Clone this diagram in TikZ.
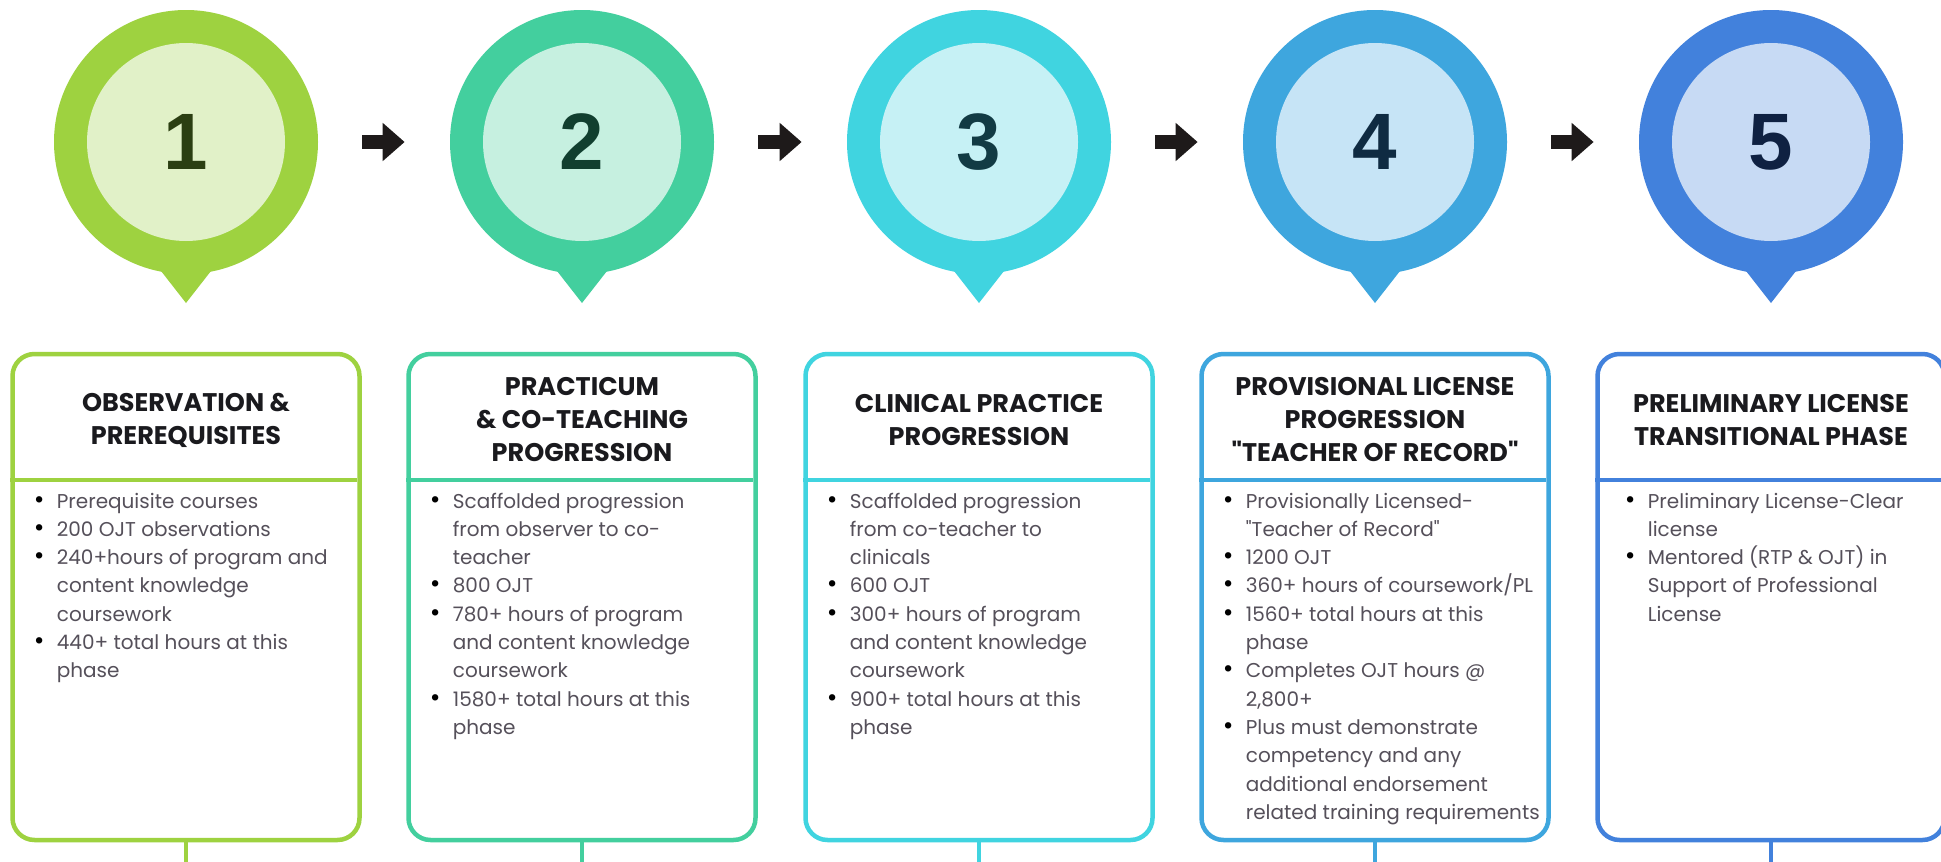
\documentclass[tikz,border=0pt]{standalone}
\usepackage{fontspec}
\usepackage{graphicx}
\setmainfont{Poppins}
\newfontfamily\numfont{Liberation Sans}
\usetikzlibrary{arrows.meta}

\definecolor{ringA}{RGB}{158,210,64}
\definecolor{diskA}{RGB}{225,241,200}
\definecolor{numA}{RGB}{43,63,18}
\definecolor{ringB}{RGB}{67,207,158}
\definecolor{diskB}{RGB}{198,240,224}
\definecolor{numB}{RGB}{17,63,47}
\definecolor{ringC}{RGB}{64,212,224}
\definecolor{diskC}{RGB}{198,241,245}
\definecolor{numC}{RGB}{18,59,68}
\definecolor{ringD}{RGB}{62,166,222}
\definecolor{diskD}{RGB}{198,228,246}
\definecolor{numD}{RGB}{15,43,66}
\definecolor{ringE}{RGB}{66,129,220}
\definecolor{diskE}{RGB}{199,218,244}
\definecolor{numE}{RGB}{15,33,66}
\definecolor{headink}{RGB}{26,26,30}
\definecolor{bodyink}{RGB}{85,80,90}
\definecolor{arrowink}{RGB}{30,26,26}

\newcommand\blt{\makebox[23pt][l]{\color{black}\scalebox{1.3}{\textbullet}}}

\tikzset{every picture/.style={line width=0.75pt}}
\tikzset{
  ring/.style={circle, inner sep=0pt, minimum size=264pt},
  disk/.style={circle, inner sep=0pt, minimum size=198pt, font=\numfont\bfseries\fontsize{80}{80}\selectfont},
  phasebox/.style={draw, line width=4.5pt, rounded corners=22pt, minimum width=347pt, minimum height=486pt, inner sep=0pt},
  rule/.style={line width=4.5pt},
  headtext/.style={align=center, inner sep=0pt, font=\bfseries\fontsize{25.5}{33}\selectfont, text=headink},
  bodytext/.style={anchor=base west, inner sep=0pt, font=\fontsize{20}{28.3}\selectfont, text=bodyink},
  blockarrow/.style={draw=arrowink, line width=13.5pt, -{Triangle[length=22pt,width=37pt]}, shorten <=44pt, shorten >=45pt},
}

\begin{document}
\begin{tikzpicture}[x=1pt,y=1pt,yscale=-1,xscale=1]
\useasboundingbox[fill=white] (0,0) rectangle (1941,862);

%Pointers
\fill[ringA] (154,262) -- (186,303) -- (218,262) -- cycle;
\fill[ringB] (550,262) -- (582,303) -- (614,262) -- cycle;
\fill[ringC] (947,262) -- (979,303) -- (1011,262) -- cycle;
\fill[ringD] (1343,262) -- (1375,303) -- (1407,262) -- cycle;
\fill[ringE] (1739,262) -- (1771,303) -- (1803,262) -- cycle;

%Shape: Circle
\node (ring1) [ring, fill=ringA] at (186,142) {};
\node (num1) [disk, fill=diskA, text=numA] at (186,142) {1};
%Shape: Circle
\node (ring2) [ring, fill=ringB] at (582,142) {};
\node (num2) [disk, fill=diskB, text=numB] at (582,142) {2};
%Shape: Circle
\node (ring3) [ring, fill=ringC] at (979,142) {};
\node (num3) [disk, fill=diskC, text=numC] at (979,142) {3};
%Shape: Circle
\node (ring4) [ring, fill=ringD] at (1375,142) {};
\node (num4) [disk, fill=diskD, text=numD] at (1375,142) {4};
%Shape: Circle
\node (ring5) [ring, fill=ringE] at (1771,142) {};
\node (num5) [disk, fill=diskE, text=numE] at (1771,142) {5};

%Right Arrows
\draw[blockarrow] (ring1) -- (ring2);
\draw[blockarrow] (ring2) -- (ring3);
\draw[blockarrow] (ring3) -- (ring4);
\draw[blockarrow] (ring4) -- (ring5);

%Shape: Rounded Rect
\node (box1) [phasebox, draw=ringA] at (186,597) {};
\draw[rule, ringA] (box1.north west) ++(0,128) -- ++(347,0);
\draw[rule, ringA] (box1.south) -- ++(0,30);
%Shape: Rounded Rect
\node (box2) [phasebox, draw=ringB] at (582,597) {};
\draw[rule, ringB] (box2.north west) ++(0,128) -- ++(347,0);
\draw[rule, ringB] (box2.south) -- ++(0,30);
%Shape: Rounded Rect
\node (box3) [phasebox, draw=ringC] at (979,597) {};
\draw[rule, ringC] (box3.north west) ++(0,128) -- ++(347,0);
\draw[rule, ringC] (box3.south) -- ++(0,30);
%Shape: Rounded Rect
\node (box4) [phasebox, draw=ringD] at (1375,597) {};
\draw[rule, ringD] (box4.north west) ++(0,128) -- ++(347,0);
\draw[rule, ringD] (box4.south) -- ++(0,30);
%Shape: Rounded Rect
\node (box5) [phasebox, draw=ringE] at (1771,597) {};
\draw[rule, ringE] (box5.north west) ++(0,128) -- ++(347,0);
\draw[rule, ringE] (box5.south) -- ++(0,30);

% Text Node
\node (head1) [headtext] at (186,420) {OBSERVATION \&\\PREREQUISITES};
% Text Node
\node (head2) [headtext] at (582,420) {PRACTICUM\\\& CO-TEACHING\\PROGRESSION};
% Text Node
\node (head3) [headtext] at (979,420) {CLINICAL PRACTICE\\PROGRESSION};
% Text Node
\node (head4) [headtext] at (1375,420) {PROVISIONAL LICENSE\\PROGRESSION\\\textquotedbl TEACHER OF RECORD\textquotedbl};
% Text Node
\node (head5) [headtext] at (1771,420) {PRELIMINARY LICENSE\\TRANSITIONAL PHASE};

% Text Node
\node (body1) [bodytext] at (33.5,508) {\begin{tabular}[t]{@{}l@{}l@{}}
\blt & Prerequisite courses\\
\blt & 200 OJT observations\\
\blt & 240+hours of program and\\
 & content knowledge\\
 & coursework\\
\blt & 440+ total hours at this\\
 & phase
\end{tabular}};
% Text Node
\node (body2) [bodytext] at (429.5,508) {\begin{tabular}[t]{@{}l@{}l@{}}
\blt & Scaffolded progression\\
 & from observer to co-\\
 & teacher\\
\blt & 800 OJT\\
\blt & 780+ hours of program\\
 & and content knowledge\\
 & coursework\\
\blt & 1580+ total hours at this\\
 & phase
\end{tabular}};
% Text Node
\node (body3) [bodytext] at (826.5,508) {\begin{tabular}[t]{@{}l@{}l@{}}
\blt & Scaffolded progression\\
 & from co-teacher to\\
 & clinicals\\
\blt & 600 OJT\\
\blt & 300+ hours of program\\
 & and content knowledge\\
 & coursework\\
\blt & 900+ total hours at this\\
 & phase
\end{tabular}};
% Text Node
\node (body4) [bodytext] at (1222.5,508) {\begin{tabular}[t]{@{}l@{}l@{}}
\blt & Provisionally Licensed-\\
 & \textquotedbl Teacher of Record\textquotedbl\\
\blt & 1200 OJT\\
\blt & 360+ hours of coursework/PL\\
\blt & 1560+ total hours at this\\
 & phase\\
\blt & Completes OJT hours @\\
 & 2,800+\\
\blt & Plus must demonstrate\\
 & competency and any\\
 & additional endorsement\\
 & related training requirements
\end{tabular}};
% Text Node
\node (body5) [bodytext] at (1624.5,508) {\begin{tabular}[t]{@{}l@{}l@{}}
\blt & Preliminary License-Clear\\
 & license\\
\blt & Mentored (RTP \& OJT) in\\
 & Support of Professional\\
 & License
\end{tabular}};

\end{tikzpicture}
\end{document}
